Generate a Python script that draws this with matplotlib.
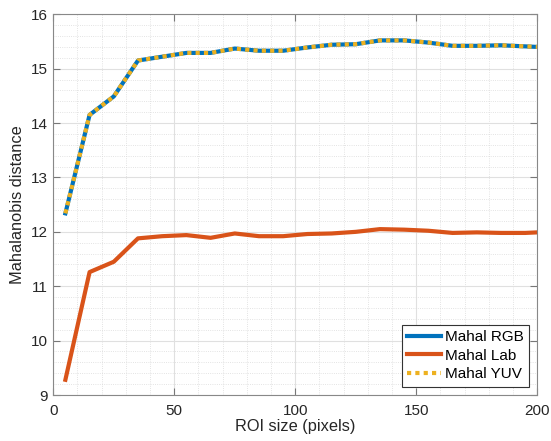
import matplotlib.pyplot as plt
from matplotlib.ticker import MultipleLocator

plt.rcParams['font.family'] = ['Liberation Sans', 'DejaVu Sans']

roi_size = [5, 15, 25, 35, 45, 55, 65, 75, 85, 95, 105, 115, 125, 135, 145,
            155, 165, 175, 185, 195, 200]
mahal_rgb = [12.34, 14.15, 14.49, 15.15, 15.22, 15.29, 15.29, 15.37, 15.33, 15.33,
             15.39, 15.44, 15.45, 15.52, 15.52, 15.48, 15.42, 15.42, 15.43, 15.41, 15.40]
mahal_lab = [9.28, 11.26, 11.45, 11.88, 11.92, 11.94, 11.89, 11.97, 11.92, 11.92,
             11.96, 11.97, 12.00, 12.05, 12.04, 12.02, 11.98, 11.99, 11.98, 11.98, 11.99]
mahal_yuv = list(mahal_rgb)

fig = plt.figure(figsize=(5.51, 4.41), dpi=100)
ax = fig.add_axes([0.0967, 0.1043, 0.8784, 0.8633])

ax.plot(roi_size, mahal_rgb, color=(0, 0.447, 0.741), lw=3, label='Mahal RGB')
ax.plot(roi_size, mahal_lab, color=(0.85, 0.325, 0.098), lw=3, label='Mahal Lab')
ax.plot(roi_size, mahal_yuv, color=(0.929, 0.694, 0.125), lw=3, dashes=(1, 1),
        label='Mahal YUV')

ax.set_xlim(0, 200)
ax.set_ylim(9, 16)
ax.xaxis.set_major_locator(MultipleLocator(50))
ax.xaxis.set_minor_locator(MultipleLocator(10))
ax.yaxis.set_major_locator(MultipleLocator(1))
ax.yaxis.set_minor_locator(MultipleLocator(0.2))

ax.grid(which='major', color='#e0e0e0', lw=0.8)
ax.grid(which='minor', color='#dadada', lw=0.6, ls=':')
ax.set_axisbelow(True)

ax.tick_params(which='both', direction='in', top=True, right=True, colors='#777777',
               labelcolor='#262626', labelsize=11)
ax.tick_params(which='major', length=5)
ax.tick_params(which='minor', length=0)
ax.tick_params(axis='x', pad=6.5)
ax.tick_params(axis='y', pad=4)
for s in ax.spines.values():
    s.set_color('#888888')
    s.set_linewidth(0.8)

ax.set_xlabel('ROI size (pixels)', fontsize=11.8, color='#262626', labelpad=1)
ax.set_ylabel('Mahalanobis distance', fontsize=11.8, color='#262626', labelpad=4)

leg = ax.legend(loc='lower right', fontsize=11, fancybox=False, framealpha=1,
                edgecolor='#333333', handlelength=2.2, borderpad=0.35,
                labelspacing=0.3, handletextpad=0.25, borderaxespad=0.55)
leg.get_frame().set_linewidth(0.8)

plt.savefig('out.png')
